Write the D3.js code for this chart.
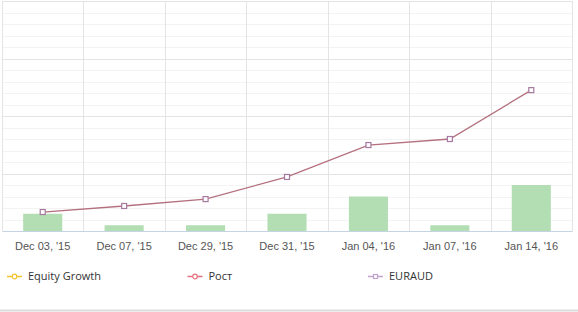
<!DOCTYPE html>
<html>
<head>
<meta charset="utf-8">
<script src="https://cdn.jsdelivr.net/npm/d3@7"></script>
<style>
  body { margin: 0; background: #fff; }
  svg { display: block; }
</style>
</head>
<body>
<div id="chart"></div>
<script>
// data
const dates = ["Dec 03, '15", "Dec 07, '15", "Dec 29, '15", "Dec 31, '15", "Jan 04, '16", "Jan 07, '16", "Jan 14, '16"];
const equityBars = [6, 2, 2, 6, 12, 2, 16];
const eurAudLine = [6.6, 8.7, 11.1, 18.8, 29.9, 32.0, 49.0];
const legendNames = ["Equity Growth", "Рост", "EURAUD"];
const legendColors = ["#f2c22e", "#e5707e", "#c3a3cc"];

const W = 578, H = 312;
const plot = { left: 2, right: 572, top: 1, bottom: 231 };

const svg = d3.select("#chart")
    .append("svg")
    .attr("width", W)
    .attr("height", H);

// scales
const x = d3.scaleBand()
    .domain(dates)
    .range([plot.left, plot.right]);

const y = d3.scaleLinear()
    .domain([0, 80])
    .range([plot.bottom, plot.top]);

// minor gridlines
svg.append("g")
    .attr("transform", "translate(" + plot.left + ",0)")
    .call(d3.axisLeft(y)
        .tickValues(d3.range(4, 80, 4).filter(v => v % 20 !== 0))
        .tickSize(-(plot.right - plot.left))
        .tickFormat(""))
    .call(g => g.select(".domain").remove())
    .selectAll(".tick line")
    .style("stroke", "#f3f3f3")
    .style("shape-rendering", "crispEdges");

// major gridlines
svg.append("g")
    .attr("transform", "translate(" + plot.left + ",0)")
    .call(d3.axisLeft(y)
        .tickValues([20, 40, 60, 80])
        .tickSize(-(plot.right - plot.left))
        .tickFormat(""))
    .call(g => g.select(".domain").remove())
    .selectAll(".tick line")
    .style("stroke", "#e4e4e4")
    .style("shape-rendering", "crispEdges");

// vertical gridlines at category boundaries
const bounds = dates.map(d => x(d)).concat([plot.right]);
svg.append("g")
    .selectAll("line")
    .data(bounds)
    .enter()
    .append("line")
    .attr("x1", d => Math.round(d) + 0.5)
    .attr("x2", d => Math.round(d) + 0.5)
    .attr("y1", plot.top)
    .attr("y2", plot.bottom)
    .style("stroke", "#e4e4e4");

// bars
const barW = x.bandwidth() * 0.48;
svg.append("g")
    .selectAll("rect")
    .data(equityBars)
    .enter()
    .append("rect")
    .attr("x", (d, i) => x(dates[i]) + x.bandwidth() / 2 - barW / 2)
    .attr("y", d => y(d))
    .attr("width", barW)
    .attr("height", d => y(0) - y(d))
    .style("fill", "#b3deb3");

// x axis
const xAxis = svg.append("g")
    .attr("transform", "translate(0," + plot.bottom + ")")
    .call(d3.axisBottom(x).tickSize(0).tickPadding(11));
xAxis.select(".domain")
    .style("stroke", "#c5d3e2");
xAxis.selectAll("text")
    .style("fill", "#555")
    .style("font-size", "11px")
    .style("font-family", "'Liberation Sans', Arial, sans-serif");

// line
const line = d3.line()
    .x((d, i) => x(dates[i]) + x.bandwidth() / 2)
    .y(d => y(d));

svg.append("path")
    .datum(eurAudLine)
    .attr("d", line)
    .style("fill", "none")
    .style("stroke", "#b4707e")
    .style("stroke-width", 1.3);

svg.append("g")
    .selectAll("rect")
    .data(eurAudLine)
    .enter()
    .append("rect")
    .attr("x", (d, i) => x(dates[i]) + x.bandwidth() / 2 - 2.5)
    .attr("y", d => y(d) - 2.5)
    .attr("width", 5)
    .attr("height", 5)
    .style("fill", "#fff")
    .style("stroke", "#a6789f")
    .style("stroke-width", 1.2);

// legend
const legend = svg.append("g")
    .selectAll("g")
    .data(legendNames)
    .enter()
    .append("g")
    .attr("transform", (d, i) => "translate(" + (7 + i * 180.5) + ",276)");

legend.append("line")
    .attr("x1", 0)
    .attr("x2", 15)
    .attr("y1", 0.5)
    .attr("y2", 0.5)
    .style("stroke", (d, i) => legendColors[i])
    .style("stroke-width", 1.5);

legend.filter((d, i) => i < 2)
    .append("circle")
    .attr("cx", 7.5)
    .attr("cy", 0.5)
    .attr("r", 2.3)
    .style("fill", "#fff")
    .style("stroke", (d, i) => legendColors[i])
    .style("stroke-width", 1.2);

legend.filter((d, i) => i === 2)
    .append("rect")
    .attr("x", 5.5)
    .attr("y", -1.5)
    .attr("width", 4)
    .attr("height", 4)
    .style("fill", "#fff")
    .style("stroke", legendColors[2])
    .style("stroke-width", 1.2);

legend.append("text")
    .attr("x", 21)
    .attr("y", 0.5)
    .attr("dy", "0.35em")
    .text(d => d)
    .style("fill", "#333")
    .style("font-size", "11px")
    .style("font-family", "'Open Sans', sans-serif");

// bottom separator
svg.append("line")
    .attr("x1", 0)
    .attr("x2", W)
    .attr("y1", 310.5)
    .attr("y2", 310.5)
    .style("stroke", "#dcdcdc")
    .style("stroke-width", 2);
</script>
</body>
</html>
